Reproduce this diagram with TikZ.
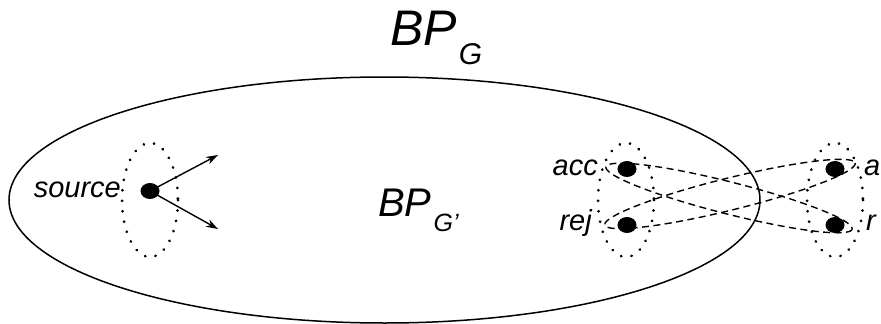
\documentclass[tikz,border=0pt]{standalone}
\usepackage{fontspec}
\setmainfont{Liberation Sans}
\usetikzlibrary{arrows.meta}
\begin{document}
\begin{tikzpicture}[x=1pt,y=-1pt,
  outline/.style={draw=black,line width=1.5pt},
  dotring/.style={draw=black,line width=3pt,dash pattern=on 0.01pt off 10.5pt,line cap=round},
  dashring/.style={draw=black,line width=1.4pt,dash pattern=on 7pt off 4.5pt},
  blob/.style={fill=black,draw=none},
  lbl/.style={inner sep=0pt,font=\fontsize{29}{29}\selectfont\itshape},
  edge/.style={draw=black,line width=1.4pt,-{Stealth[length=12pt,width=8pt]}}]
\useasboundingbox (0,0) rectangle (881,324);
% big ellipse
\draw[outline] (384.5,200) ellipse [x radius=375.5, y radius=123];
% title
\node[anchor=base west,inner sep=0pt] (title) at (390,45)
  {\fontsize{50}{50}\selectfont\itshape BP\hspace{2pt}\raisebox{-20pt}{\fontsize{30}{30}\selectfont\itshape G}};
\node[anchor=base west,inner sep=0pt] (inner) at (378,216)
  {\fontsize{40}{40}\selectfont\itshape BP\hspace{2pt}\raisebox{-15pt}{\fontsize{25}{25}\selectfont\itshape G’}};
% source
\draw[dotring] (150,200) ellipse [x radius=28, y radius=57];
\fill[blob] (150,191) ellipse [x radius=9.5, y radius=8];
\coordinate (src) at (150,191);
\coordinate (up) at (218,155);
\coordinate (dn) at (218,229);
\draw[edge] (src) -- (up);
\draw[edge] (src) -- (dn);
\node[lbl,anchor=base east] (srclbl) at (121,197) {source};
% right groups
\draw[dotring] (626,200) ellipse [x radius=28, y radius=57];
\draw[dotring] (835,200) ellipse [x radius=28, y radius=57];
\draw[dashring,rotate around={13.9:(730,194)}] (730,194) ellipse [x radius=129, y radius=16];
\draw[dashring,rotate around={-14.2:(729,198)}] (729,198) ellipse [x radius=127, y radius=16];
\fill[blob] (627,169) ellipse [x radius=9.5, y radius=8];
\fill[blob] (627,225) ellipse [x radius=9.5, y radius=8];
\fill[blob] (835,169) ellipse [x radius=9.5, y radius=8];
\fill[blob] (835,225) ellipse [x radius=9.5, y radius=8];
\node[lbl,anchor=base east] (acc) at (598,175) {acc};
\node[lbl,anchor=base east] (rej) at (592,230) {rej};
\node[lbl,anchor=base west] (acc2) at (864,175) {a};
\node[lbl,anchor=base west] (rej2) at (866,230) {r};
\end{tikzpicture}
\end{document}
